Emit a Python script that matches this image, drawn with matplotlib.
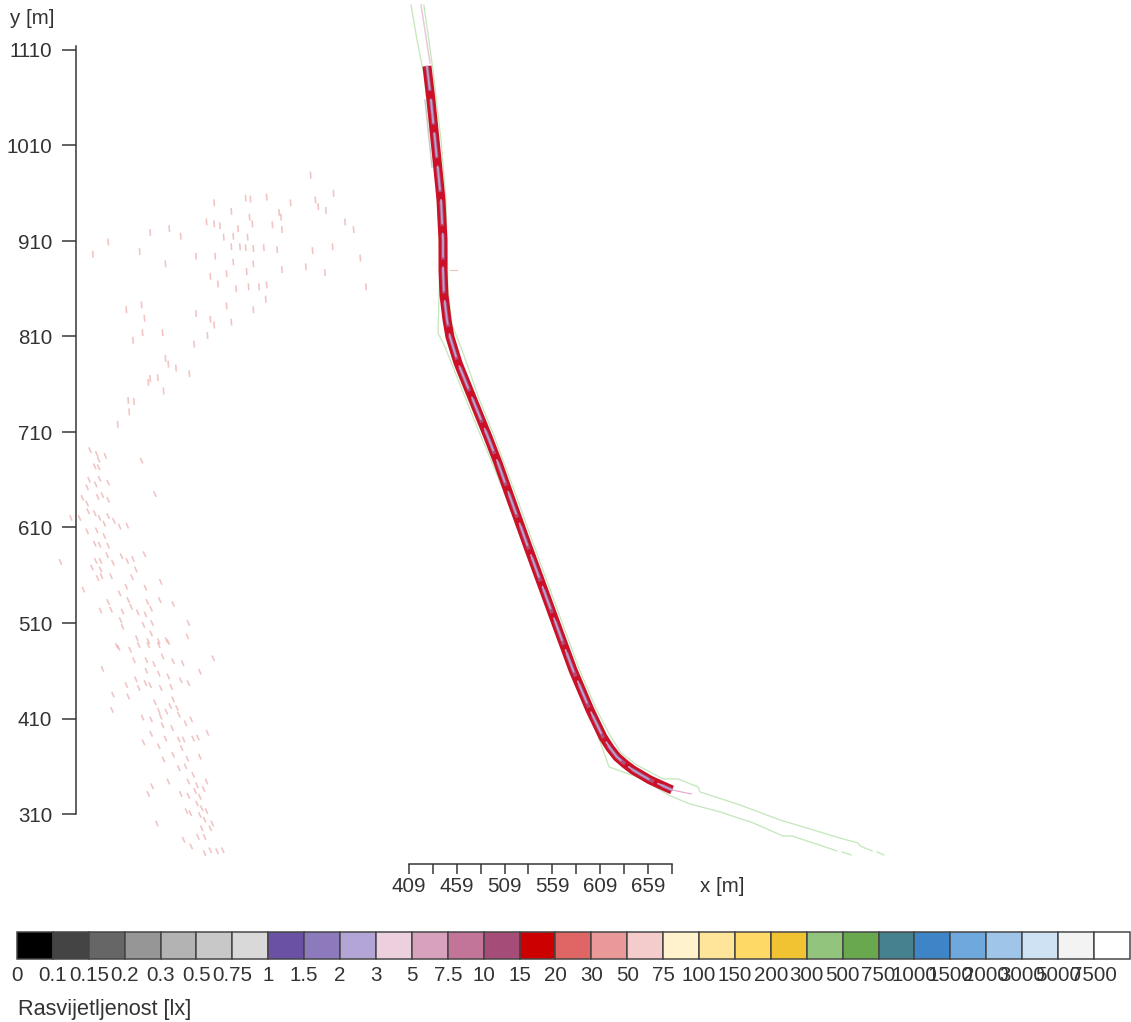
import matplotlib
matplotlib.use("Agg")
import matplotlib.pyplot as plt
import numpy as np
from matplotlib.collections import LineCollection

plt.rcParams['font.family'] = ['Liberation Sans', 'DejaVu Sans']

# Road centre line [m]
road_x = [427.8, 432.0, 437.3, 442.5, 444.6, 444.6, 445.6, 448.8, 451.9, 460.3, 476.0, 491.7, 502.2, 514.8, 533.6, 570.3, 580.7, 598.5, 612.1, 619.5, 626.8, 635.2, 643.5, 661.4, 684.4]
road_y = [1093.2, 1057.6, 1005.3, 953.0, 911.1, 879.7, 853.5, 827.3, 809.5, 782.3, 743.5, 704.8, 677.6, 642.0, 589.6, 489.1, 460.8, 418.9, 390.6, 379.1, 369.7, 362.4, 356.1, 345.6, 335.2]

# Green outlines [m]
left_x = [411.1, 417.4, 424.7, 431.0, 438.3, 441.5, 439.4, 446.7, 476.0, 506.4, 582.8, 605.8, 618.4, 650.9, 682.3, 703.2, 734.6, 769.2, 800.6, 810.0, 857.1]
left_y = [1157.1, 1120.5, 1083.8, 1026.2, 963.4, 890.1, 813.7, 799.0, 725.8, 652.5, 452.5, 395.0, 359.3, 347.8, 329.0, 320.6, 312.2, 300.7, 287.0, 287.0, 271.4]
left_end_x = [862.3, 871.8]
left_end_y = [270.3, 267.2]
right_x = [424.6, 434.1, 442.5, 447.7, 449.8, 454.0, 464.5, 482.0, 497.7, 520.8, 539.6, 576.3, 586.7, 604.5, 618.5, 631.0, 648.0, 675.0, 690.6, 711.6, 713.7, 755.6, 797.4, 863.4, 879.1, 881.2, 893.8]
right_y = [1157.1, 1089.1, 1015.8, 953.0, 858.7, 822.1, 795.9, 745.7, 707.0, 644.2, 591.8, 491.3, 463.0, 421.1, 394.0, 374.0, 361.0, 346.7, 346.7, 338.4, 333.1, 319.5, 303.8, 283.9, 279.7, 276.6, 271.4]
right_end_x = [899.0, 906.3]
right_end_y = [270.3, 267.2]

# Faint low-level lines [m]
pink_top_x = [421.6, 431.0]
pink_top_y = [1157.1, 1096.4]
grey_x = [425.8, 433.1]
grey_y = [1057.6, 987.5]
pink_tail_x = [684.4, 704.3]
pink_tail_y = [335.2, 331.0]
pink_tick_x = [451.9, 459.3]
pink_tick_y = [879.7, 879.7]

# Scattered spill marks, northern arc [m]
arc_x = [306,330,238,243,260,205,285,311,314,322,223,273,275,242,342,197,205,211,245,266,351,230,276,158,138,170,94,215,225,240,
         223,232,238,246,257,271,308,329,127,186,206,78,154,225,246,358,276,301,321,239,218,201,209,228,241,252,260,364,259,218,
         246,129,113,132,186,201,205,223,130,151,120,198,184,154,157,165,179,138,146,136,152,115,121,116,104]
arc_y = [979,960,955,954,956,950,950,953,946,942,941,940,935,935,930,930,928,926,928,927,922,923,922,923,919,915,909,914,915,914,
         904,904,903,902,903,901,900,904,899,894,894,896,886,888,886,892,880,883,877,878,876,873,865,860,862,862,864,862,849,842,
         838,843,838,829,834,828,822,825,814,814,806,811,802,787,781,777,771,766,767,762,753,743,742,731,718]

# Scattered spill marks, western field [m]
west_x = [75,82,84,91,80,84,129,74,85,94,81,72,143,67,83,88,94,72,73,80,55,64,85,94,90,100,106,114,72,82,
          90,80,85,94,93,108,132,114,120,81,86,99,44,77,86,123,87,83,97,119,68,113,133,106,149,115,135,94,148,162,
          86,97,109,118,125,133,139,107,109,131,140,178,124,139,147,155,136,103,177,
          105,117,126,136,147,157,121,134,142,151,162,172,204,88,134,147,157,170,190,123,133,138,113,126,149,160,178,99,115,162,
          143,166,147,159,98,130,149,155,168,139,181,175,151,161,198,139,154,168,173,183,188,131,147,171,162,152,177,190,168,175,
          183,157,178,197,187,194,170,178,185,190,187,176,192,197,180,190,195,203,145,192,201,188,195,173,181,201,195,208,214,140,136]
west_y = [691,687,681,685,674,673,680,660,661,657,655,652,645,641,642,644,639,635,627,625,620,620,620,622,614,617,611,612,606,607,
          601,593,592,591,581,580,582,575,577,575,575,573,574,568,566,566,559,557,559,558,545,548,547,541,553,534,532,532,534,530,
          523,524,522,527,521,519,525,513,506,508,510,510,494,499,491,492,491,486,496,
          484,482,487,487,487,490,471,471,467,475,470,468,473,462,460,457,454,450,459,451,447,445,445,442,442,443,447,435,433,430,
          427,421,418,423,419,411,412,417,414,409,409,405,403,400,395,394,389,388,388,389,390,385,381,379,372,367,368,370,358,360,
          351,344,344,344,340,336,331,329,334,328,321,313,316,313,311,309,304,300,300,295,295,286,286,283,276,272,269,271,272,339,331]

# Legend
legend_labels = ['0','0.1','0.15','0.2','0.3','0.5','0.75','1','1.5','2','3','5','7.5','10','15','20','30','50','75',
                 '100','150','200','300','500','750','1000','1500','2000','3000','5000','7500']
legend_colors = ['#000000','#444444','#666666','#969696','#b3b3b3','#c8c8c8','#d9d9d9','#6a51a3','#8d7abd','#b3a5d6','#ecd0dd',
                 '#d8a2bc','#c27599','#a54d78','#cc0000','#e06666','#ea9999','#f4cccc','#fff2cc','#ffe599','#ffd966','#f1c232',
                 '#93c47d','#6aa84f','#45818e','#3d85c6','#6fa8dc','#9fc5e8','#cfe2f3','#f3f3f3','#ffffff']
legend_title = 'Rasvijetljenost [lx]'

# Axis ticks
x_ticks = [409, 434, 459, 484, 509, 534, 559, 584, 609, 634, 659, 684]
x_tick_labels = ['409', '', '459', '', '509', '', '559', '', '609', '', '659', '']
y_ticks = [310, 410, 510, 610, 710, 810, 910, 1010, 1110]

W, H = 1131, 1022
SCALE = 0.955  # px per metre
TEXT = '#333333'
FS = 14.8
px = 0.72      # 1 pixel in points

fig = plt.figure(figsize=(W / 100, H / 100), dpi=100, facecolor='white')
ax = fig.add_axes([0, 0, 1, 1], facecolor='none')
ax.set_xlim(409 - 409 / SCALE, 409 + (W - 409) / SCALE)
ax.set_ylim(1110 - (H - 50) / SCALE, 1110 + 50 / SCALE)

green = '#c4e8bc'
for xs, ys in [(left_x, left_y), (left_end_x, left_end_y), (right_x, right_y), (right_end_x, right_end_y)]:
    ax.plot(xs, ys, color=green, lw=1.3 * px, solid_joinstyle='round')
ax.plot(pink_top_x, pink_top_y, color='#ecc6dc', lw=1.5 * px)
ax.plot(grey_x, grey_y, color='#c9c9c9', lw=1.5 * px)
ax.plot(pink_tail_x, pink_tail_y, color='#e6a9c9', lw=1.2 * px)
ax.plot(pink_tick_x, pink_tick_y, color='#e8c4c4', lw=1.2 * px)


def spill(xs, ys, half_len, tilt_deg):
    xs, ys = np.asarray(xs, float), np.asarray(ys, float)
    t = np.deg2rad(tilt_deg)
    dx, dy = half_len * np.sin(t), half_len * np.cos(t)
    segs = np.stack([np.c_[xs - dx, ys + dy], np.c_[xs + dx, ys - dy]], axis=1)
    return LineCollection(segs, colors='#eeb4b4', linewidths=1.6 * px, alpha=0.8)


ax.add_collection(spill(arc_x, arc_y, 3.6, 4))
ax.add_collection(spill(west_x, west_y, 3.2, 24))

# Road: lit band
ax.plot(road_x, road_y, color='#cc1028', lw=9 * px, solid_capstyle='butt', solid_joinstyle='round')
ax.plot(road_x, road_y, color='#b0507a', lw=3.6 * px, linestyle=(0, (7.0, 2.4)), dash_capstyle='butt')
ax.plot(road_x, road_y, color='#b9a3cf', lw=1.8 * px, linestyle=(0, (13.0, 5.7)), dash_capstyle='round')

# Axes
for side in ['top', 'right']:
    ax.spines[side].set_visible(False)
ax.spines['left'].set_position(('data', 409 - 333 / SCALE))
ax.spines['left'].set_bounds(310, 1114)
ax.spines['bottom'].set_position(('data', 1110 - 814 / SCALE))
ax.spines['bottom'].set_bounds(409, 684)
for side in ['left', 'bottom']:
    ax.spines[side].set_color(TEXT)
    ax.spines[side].set_linewidth(1.5 * px)
ax.set_xticks(x_ticks, x_tick_labels)
ax.set_yticks(y_ticks, [str(v) for v in y_ticks])
ax.tick_params(axis='y', direction='out', length=14 * px, width=1.5 * px, color=TEXT,
               labelsize=FS, labelcolor=TEXT, pad=7)
ax.tick_params(axis='x', direction='out', length=10 * px, width=1.5 * px, color=TEXT,
               labelsize=FS, labelcolor=TEXT, pad=2)
fig.text(10 / W, 1 - 18 / H, 'y [m]', fontsize=FS, color=TEXT, va='center', ha='left')
fig.text(700 / W, 1 - 886 / H, 'x [m]', fontsize=FS, color=TEXT, va='center', ha='left')

# Legend strip
CELL = 35.9
lax = fig.add_axes([17 / W, 1 - 959 / H, CELL * 31 / W, 27 / H], facecolor='none')
lax.bar(np.arange(len(legend_colors)), [1] * len(legend_colors), width=1, align='edge',
        color=legend_colors, edgecolor='#444444', linewidth=1.5 * px, clip_on=False)
lax.set_xlim(0, len(legend_colors))
lax.set_ylim(0, 1)
for s in lax.spines.values():
    s.set_visible(False)
lax.set_yticks([])
lax.set_xticks(np.arange(len(legend_labels)), legend_labels)
lax.tick_params(axis='x', length=0, labelsize=FS, labelcolor=TEXT, pad=5)
fig.text(18 / W, 1 - 1009 / H, legend_title, fontsize=FS + 0.8, color=TEXT, va='center', ha='left')

fig.savefig('out.png', dpi=100, facecolor='white')
